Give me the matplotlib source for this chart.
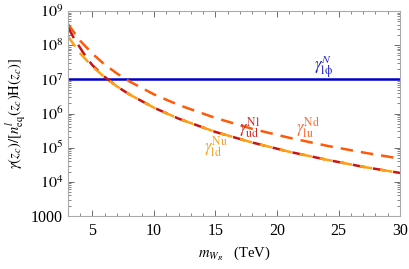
import matplotlib
matplotlib.use("Agg")
import matplotlib.pyplot as plt
from matplotlib.ticker import FixedLocator, LogLocator, NullFormatter, MultipleLocator

plt.rcParams['font.family'] = ['Liberation Serif', 'DejaVu Serif']
plt.rcParams['mathtext.fontset'] = 'stix'

# data (log10 values)
mW = [3, 4, 5, 6, 7, 8, 10, 12, 15, 18, 21, 24, 27, 30]
log_lu_Nd = [8.62, 8.13, 7.75, 7.43, 7.17, 6.94, 6.56, 6.25, 5.87, 5.55, 5.29, 5.06, 4.86, 4.68]
log_ld_Nu = [8.26, 7.76, 7.37, 7.06, 6.79, 6.56, 6.17, 5.85, 5.46, 5.15, 4.88, 4.65, 4.44, 4.26]
mW_red = [3, 3.5, 4, 4.5, 5, 6, 7, 8, 10, 12, 15, 18, 21, 24, 27, 30]
log_ud_Nl = [8.53, 8.20, 7.92, 7.64, 7.41, 7.07, 6.79, 6.56, 6.17, 5.85, 5.46, 5.15, 4.88, 4.65, 4.44, 4.26]
gamma_lphi_N = 1e7

yticks = [1e3, 1e4, 1e5, 1e6, 1e7, 1e8, 1e9]
yticklabels = ['1000', r'$10^4$', r'$10^5$', r'$10^6$', r'$10^7$', r'$10^8$', r'$10^9$']
xticks = [5, 10, 15, 20, 25, 30]

fig = plt.figure(figsize=(4.09, 2.69), dpi=100)
ax = fig.add_axes([0.166, 0.197, 0.812, 0.762])

ax.axhline(gamma_lphi_N, color='#0000cc', lw=1.8)
ax.plot(mW, [10**v for v in log_lu_Nd], color='#ff5a0a', lw=1.8, dashes=(5, 3.2))
ax.plot(mW_red, [10**v for v in log_ud_Nl], color='#c81414', lw=1.8, dashes=(5, 3.2))
ax.plot(mW, [10**v for v in log_ld_Nu], color='#ffa010', lw=1.8, dashes=(5, 3.2), dash_capstyle='butt')

ax.set_yscale('log')
ax.set_xlim(3, 30)
ax.set_ylim(1e3, 1e9)
ax.yaxis.set_major_locator(FixedLocator(yticks))
ax.set_yticklabels(yticklabels)
ax.yaxis.set_minor_locator(LogLocator(base=10, subs=range(2, 10)))
ax.yaxis.set_minor_formatter(NullFormatter())
ax.xaxis.set_major_locator(FixedLocator(xticks))
ax.xaxis.set_minor_locator(MultipleLocator(1))
ax.tick_params(which='both', direction='in', top=True, right=True, labelsize=11.5, colors='#555555', labelcolor='black')
ax.tick_params(which='major', length=4, width=0.6)
ax.tick_params(which='minor', length=2, width=0.5)
ax.tick_params(axis='x', pad=5)
for s in ax.spines.values():
    s.set_color('#aaaaaa')
    s.set_linewidth(0.8)

ax.set_xlabel(r'$m_{W_R}$   (TeV)', fontsize=10.5)
ax.set_ylabel(r'$\gamma(z_c)/[n^{l}_{\rm eq}(z_c){\rm H}(z_c)]$', fontsize=10.5, labelpad=2)

ax.text(23.8, 10**7.38, r'$\gamma^{N}_{\rm l\phi}$', color='#2020c0', fontsize=12, ha='center', va='center')
ax.text(17.8, 10**5.59, r'$\gamma^{\rm Nl}_{\rm ud}$', color='#d02828', fontsize=12, ha='center', va='center')
ax.text(22.5, 10**5.59, r'$\gamma^{\rm Nd}_{\rm lu}$', color='#ff6a30', fontsize=12, ha='center', va='center')
ax.text(15.0, 10**5.03, r'$\gamma^{\rm Nu}_{\rm ld}$', color='#f5a020', fontsize=12, ha='center', va='center')

fig.savefig('out.png', dpi=100)
